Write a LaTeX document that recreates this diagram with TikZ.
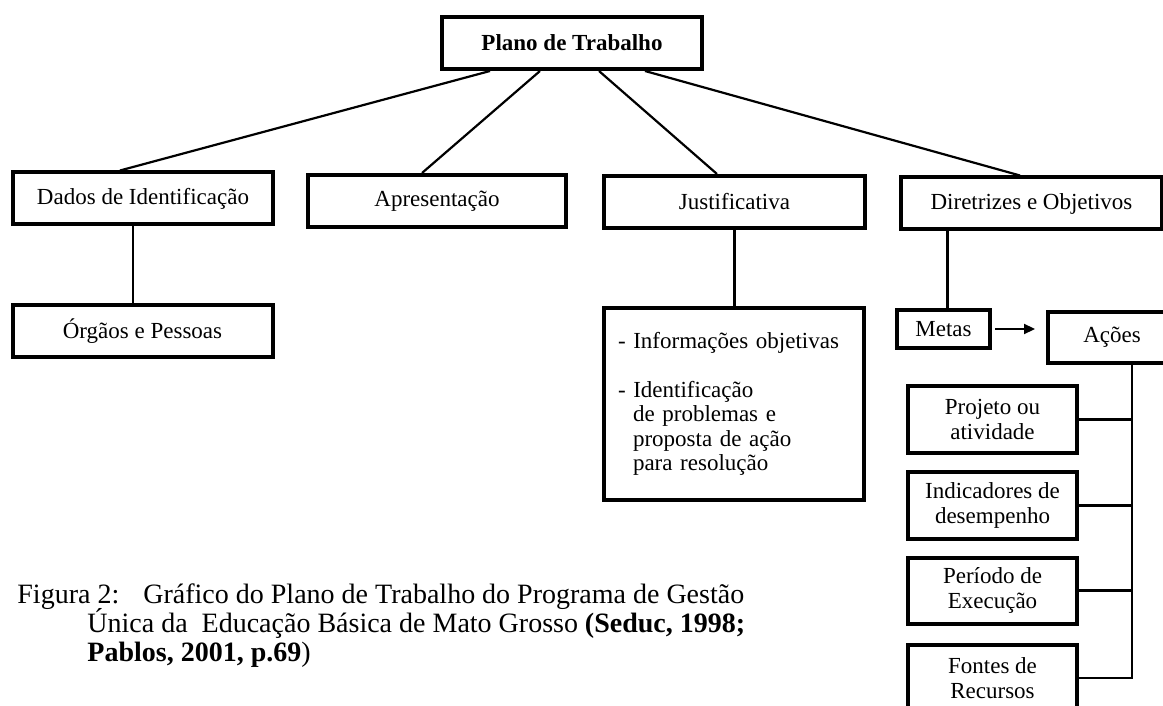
\documentclass[tikz,border=0pt]{standalone}
\usepackage{fontspec}
\setmainfont{Liberation Serif}
\usetikzlibrary{arrows.meta,calc}
\tikzset{
  bx/.style={draw, line width=2pt, inner sep=0pt, align=center,
             font=\fontsize{11.5}{12.2}\selectfont, minimum height=26pt},
  lk/.style={line width=1.1pt},
  ak/.style={-{Triangle[length=5.5pt,width=5pt]}, line width=1.1pt},
  captxt/.style={anchor=base west, inner sep=0pt, font=\fontsize{14}{15}\selectfont},
}

\begin{document}
\begin{tikzpicture}[x=0.5pt, y=-0.5pt]
\useasboundingbox (0,0) rectangle (1163,706);
\clip (0,0) rectangle (1163,706);

% top and first row
\node[bx, minimum width=130pt, font=\fontsize{11.5}{12.2}\selectfont\bfseries] (plano) at (572,43) {Plano de Trabalho};
\node[bx, minimum width=130pt] (dados) at (143,198.5) {Dados de Identificação};
\node[bx, minimum width=129pt] (apres) at (437,201) {Apresentação};
\node[bx, minimum width=130.5pt] (justif) at (734.5,202) {Justificativa};
\node[bx, minimum width=130.5pt] (diret) at (1031.5,203.5) {Diretrizes e Objetivos};

% second row
\node[bx, minimum width=130pt, minimum height=26pt] (orgaos) at (142.5,331) {Órgãos e Pessoas};
\node[bx, minimum width=130pt, minimum height=96pt, text width=116pt, align=left] (info) at (734,404)
  {- Informações objetivas\\[12pt]- Identificação\\\hspace*{7.5pt}de problemas e\\\hspace*{7.5pt}proposta de ação\\\hspace*{7.5pt}para resolução};
\node[bx, minimum width=46.5pt, minimum height=19pt] (metas) at (943.5,329) {Metas};
\node[bx, minimum width=64pt, minimum height=25.5pt] (acoes) at (1112,337.5) {Ações};

% actions column
\node[bx, minimum width=84.5pt, minimum height=33.5pt] (projeto) at (992.5,419.5) {Projeto ou\\atividade};
\node[bx, minimum width=84.5pt, minimum height=33.5pt] (indic) at (992.5,505.5) {Indicadores de\\desempenho};
\node[bx, minimum width=84.5pt, minimum height=33pt] (periodo) at (992.5,590.5) {Período de\\Execução};
\node[bx, minimum width=84.5pt, minimum height=33.5pt] (fontes) at (992.5,678) {Fontes de\\Recursos};

% caption
\node[captxt] (cap1) at (17,603) {\makebox[63pt][l]{Figura 2:}Gráfico do Plano de Trabalho do Programa de Gestão};
\node[captxt] (cap2) at (87,632) {Única da~ Educação Básica de Mato Grosso \textbf{(Seduc, 1998;}};
\node[captxt] (cap3) at (87,661) {\textbf{Pablos, 2001, p.69})};

% links
\draw[lk] ([xshift=-41pt]plano.south) -- ([xshift=-11.5pt]dados.north);
\draw[lk] ([xshift=-16pt]plano.south) -- ([xshift=-7.5pt]apres.north);
\draw[lk] ([xshift=13.5pt]plano.south) -- ([xshift=-8.75pt]justif.north);
\draw[lk] ([xshift=36.5pt]plano.south) -- ([xshift=-5.75pt]diret.north);
\draw[lk] ([xshift=-5pt]dados.south) -- ([xshift=-5pt]dados.south |- orgaos.north);
\draw[lk] (justif.south) -- (justif.south |- info.north);
\draw[lk] ([xshift=2pt]metas.north |- diret.south) -- ([xshift=2pt]metas.north);
\draw[ak, shorten <=1.5pt, shorten >=5.5pt] (metas.east) -- (metas.east -| acoes.west);

\coordinate (bus) at ([xshift=10pt]acoes.south);
\draw[lk] (bus) |- (fontes.east);
\foreach \n in {projeto,indic,periodo}
  \draw[lk] (\n.east) -- (\n.east -| bus);
\end{tikzpicture}
\end{document}
